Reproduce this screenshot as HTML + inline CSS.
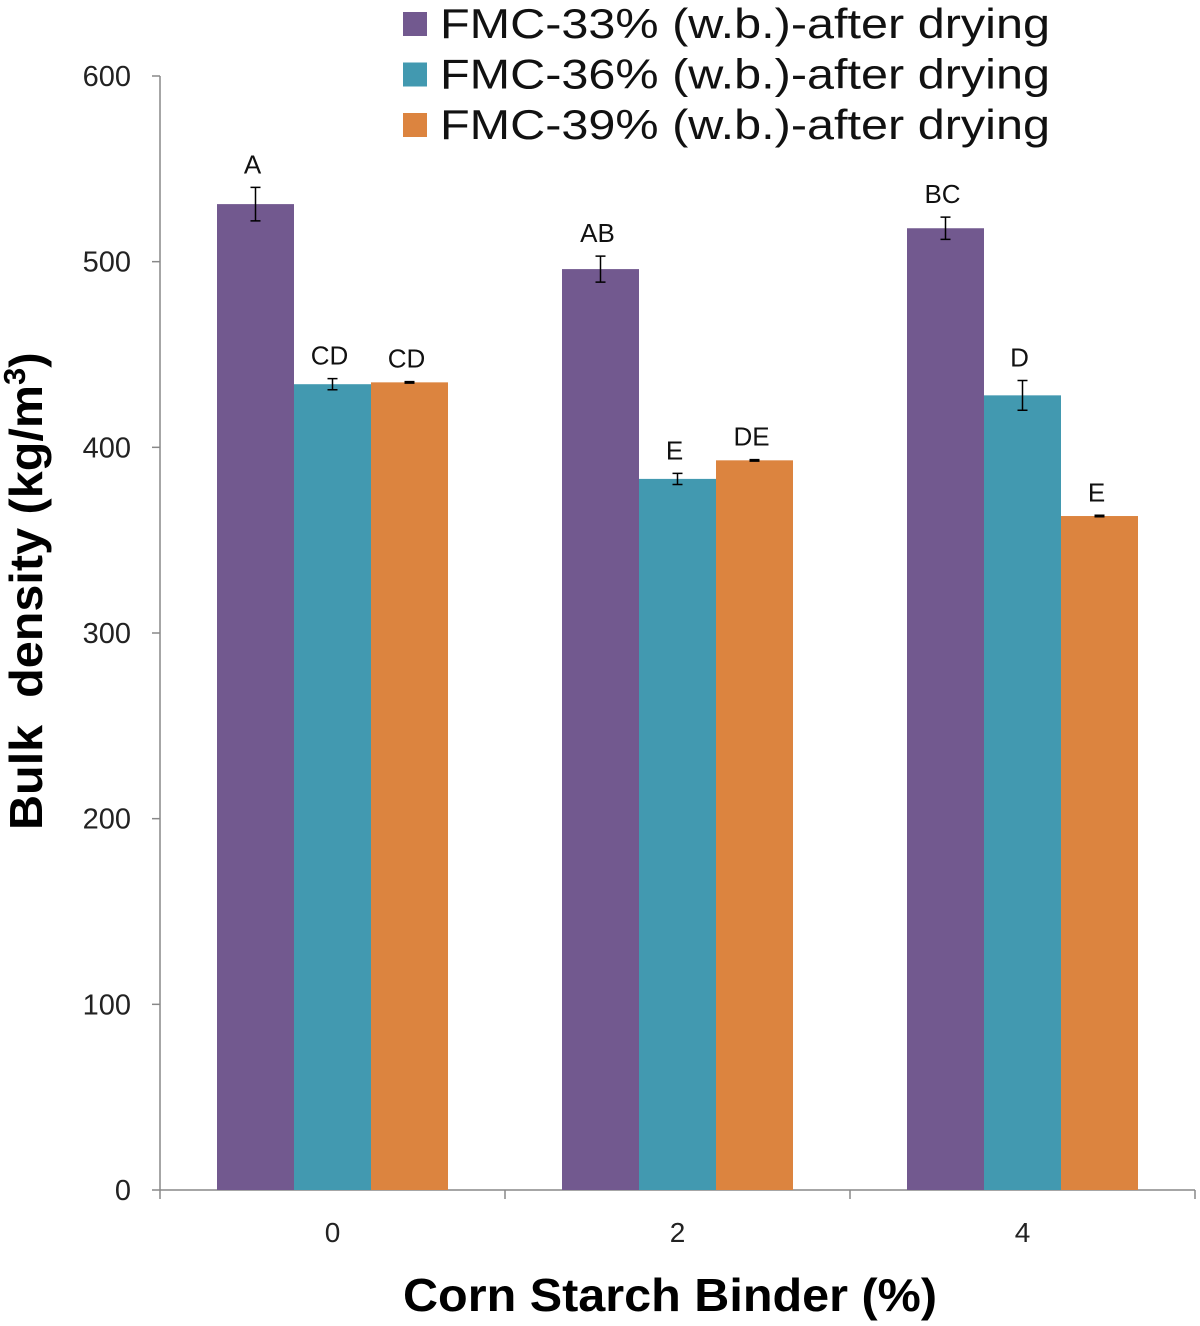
<!DOCTYPE html>
<html><head><meta charset="utf-8"><style>
body{margin:0;background:#fff}
svg{display:block;font-family:"Liberation Sans",Arial,sans-serif}
</style></head><body>
<svg id="chart" width="1200" height="1326" viewBox="0 0 1200 1326"></svg>
<script>
const categories = ["0","2","4"];
const seriesNames = ["FMC-33% (w.b.)-after drying","FMC-36% (w.b.)-after drying","FMC-39% (w.b.)-after drying"];
const fmc33 = [531, 496, 518];
const fmc36 = [434, 383, 428];
const fmc39 = [435, 393, 363];
const err33 = [9, 7, 6];
const err36 = [3, 3, 8];
const err39 = [0.4, 0.4, 0.4];
const letters33 = ["A","AB","BC"];
const letters36 = ["CD","E","D"];
const letters39 = ["CD","DE","E"];
const yTicks = [0,100,200,300,400,500,600];
const colors = ["#72598f","#4299b0","#dc843f"];

const NS="http://www.w3.org/2000/svg";
const svg=document.getElementById('chart');
function mk(t,a,txt){const e=document.createElementNS(NS,t);for(const k in a)e.setAttribute(k,a[k]);if(txt!==undefined)e.textContent=txt;svg.appendChild(e);return e;}
const x0=160,x1=1195,yTop=76,yBot=1190;
const y=v=>yBot-(v/600)*(yBot-yTop);
const catW=(x1-x0)/categories.length;
const barW=77;
const xc=i=>x0+catW*(i+0.5);

let e=mk('line',{x1:x0,y1:yTop,x2:x0,y2:yBot,stroke:'#888','stroke-width':1.5});

e=mk('line',{x1:x0,y1:yBot,x2:x1,y2:yBot,stroke:'#888','stroke-width':1.5});

yTicks.forEach(t=>{
  e=mk('line',{x1:x0-8,y1:y(t),x2:x0,y2:y(t),stroke:'#888','stroke-width':1.5});
  
  e=mk('text',{x:131,y:y(t)+10,'text-anchor':'end','font-size':29,fill:'#222'},t);
  
});
for(let i=0;i<=categories.length;i++){
  e=mk('line',{x1:x0+catW*i,y1:yBot,x2:x0+catW*i,y2:yBot+9,stroke:'#888','stroke-width':1.5});
  
}
categories.forEach((c,i)=>{
  e=mk('text',{x:xc(i),y:1242,'text-anchor':'middle','font-size':28,fill:'#222'},c);
  
});
const series=[[fmc33,err33,letters33],[fmc36,err36,letters36],[fmc39,err39,letters39]];
series.forEach((s,si)=>{
  s[0].forEach((v,i)=>{
    const bx=xc(i)-barW*1.5+barW*si;
    e=mk('rect',{x:bx,y:y(v),width:barW,height:yBot-y(v),fill:colors[si]});
    
    const cx=bx+barW/2,hi=y(v+s[1][i]),lo=y(v-s[1][i]);
    e=mk('path',{d:`M${cx},${hi}V${lo}M${cx-5},${hi}H${cx+5}M${cx-5},${lo}H${cx+5}`,stroke:'#000','stroke-width':1.5,fill:'none'});
    
    e=mk('text',{x:cx-3,y:hi-14,'text-anchor':'middle','font-size':26,fill:'#111'},s[2][i]);
    
  });
});
seriesNames.forEach((n,i)=>{
  e=mk('rect',{x:403,y:12+i*50.5,width:24,height:24,fill:colors[i]});
  
  e=mk('text',{x:440,y:38+i*50.5,'font-size':42,fill:'#111',textLength:610,lengthAdjust:'spacingAndGlyphs'},n);
  
});
e=mk('text',{x:403,y:1311,'font-size':46,'font-weight':'bold',fill:'#000',textLength:534,lengthAdjust:'spacingAndGlyphs'},'Corn Starch Binder (%)');

e=mk('text',{x:0,y:0,'font-size':46,'font-weight':'bold',fill:'#000',transform:'translate(42,830) rotate(-90)'});

e.innerHTML='<tspan textLength="445" lengthAdjust="spacingAndGlyphs">Bulk&#160;&#160;density (kg/m</tspan><tspan dy="-17" font-size="31">3</tspan><tspan dy="17">)</tspan>';
</script>
</body></html>
